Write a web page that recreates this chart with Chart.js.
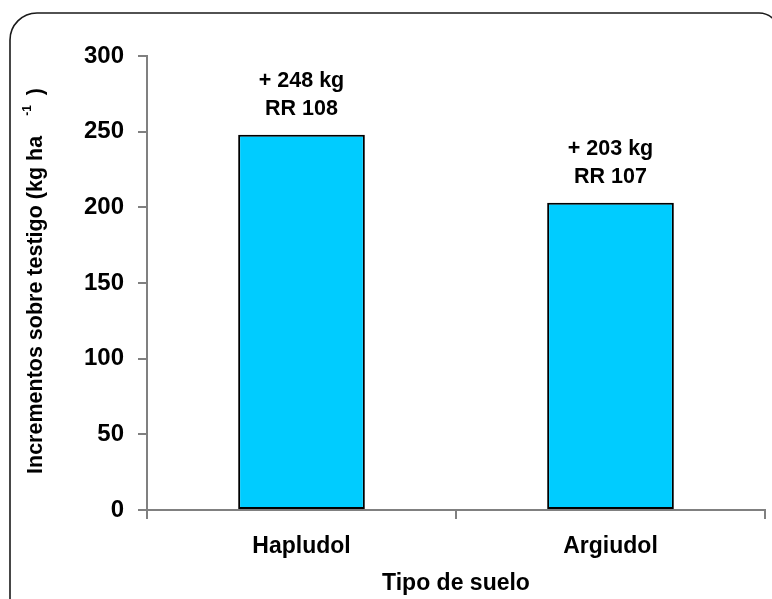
<!DOCTYPE html>
<html><head><meta charset="utf-8">
<script src="https://cdn.jsdelivr.net/npm/chart.js@4"></script>
<style>html,body{margin:0;padding:0;background:#fff}#wrap{width:772px;height:599px;position:relative}</style>
</head><body><div id="wrap"><canvas id="c" width="772" height="599"></canvas></div>
<script>
const categories = ['Hapludol', 'Argiudol'];
const increments = [248, 203];
const labelLine1 = ['+ 248 kg', '+ 203 kg'];
const labelLine2 = ['RR 108', 'RR 107'];
const yMin = 0, yMax = 300, yStep = 50;
const yTitleMain = 'Incrementos sobre testigo (kg ha';
const yTitleSup = '-1';
const yTitleEnd = ')';
const xTitle = 'Tipo de suelo';

const FONT = '"Liberation Sans", Arial, sans-serif';
const AXIS_GRAY = '#808080';

const framePlugin = {
  id: 'frame',
  beforeDraw(chart) {
    const ctx = chart.ctx;
    ctx.save();
    ctx.fillStyle = '#fff';
    ctx.fillRect(0, 0, chart.width, chart.height);
    const left = 10, top = 13, right = 779, bottom = 660, rL = 27, rR = 20;
    ctx.beginPath();
    ctx.moveTo(left + rL, top);
    ctx.lineTo(right - rR, top);
    ctx.arcTo(right, top, right, top + rR, rR);
    ctx.lineTo(right, bottom);
    ctx.lineTo(left, bottom);
    ctx.lineTo(left, top + rL);
    ctx.arcTo(left, top, left + rL, top, rL);
    ctx.closePath();
    ctx.strokeStyle = '#1a1a1a';
    ctx.lineWidth = 1.6;
    ctx.stroke();
    ctx.restore();
  }
};

const barLabelPlugin = {
  id: 'barLabels',
  afterDatasetsDraw(chart) {
    const ctx = chart.ctx;
    const meta = chart.getDatasetMeta(0);
    ctx.save();
    ctx.fillStyle = '#000';
    ctx.font = 'bold 21.5px ' + FONT;
    ctx.textAlign = 'center';
    ctx.textBaseline = 'alphabetic';
    meta.data.forEach((el, i) => {
      ctx.fillText(labelLine1[i], el.x, el.y - 48);
      ctx.fillText(labelLine2[i], el.x, el.y - 20);
    });
    ctx.restore();
  }
};

const yTitlePlugin = {
  id: 'yTitle',
  afterDraw(chart) {
    const ctx = chart.ctx;
    const area = chart.chartArea;
    ctx.save();
    ctx.fillStyle = '#000';
    ctx.textAlign = 'left';
    ctx.textBaseline = 'alphabetic';
    const mainFont = 'bold 21.5px ' + FONT;
    const supFont = 'bold 12px ' + FONT;
    ctx.font = mainFont;
    const wMain = ctx.measureText(yTitleMain).width;
    const wEnd = ctx.measureText(yTitleEnd).width;
    ctx.font = supFont;
    const wSup = ctx.measureText(yTitleSup).width;
    const gap1 = 20, gap2 = 10;
    const total = wMain + gap1 + wSup + gap2 + wEnd;
    const cy = (area.top + area.bottom) / 2 - 2;
    ctx.translate(42, cy + total / 2);
    ctx.rotate(-Math.PI / 2);
    ctx.font = mainFont;
    ctx.fillText(yTitleMain, 0, 0);
    ctx.font = supFont;
    ctx.fillText(yTitleSup, wMain + gap1, -11);
    ctx.font = mainFont;
    ctx.fillText(yTitleEnd, wMain + gap1 + wSup + gap2, 0);
    ctx.restore();
  }
};

new Chart(document.getElementById('c'), {
  type: 'bar',
  data: {
    labels: categories,
    datasets: [{
      data: increments,
      backgroundColor: '#00CCFF',
      borderColor: '#000',
      borderWidth: 2,
      borderSkipped: false,
      barPercentage: 0.41,
      categoryPercentage: 1
    }]
  },
  options: {
    responsive: false,
    animation: false,
    devicePixelRatio: 1,
    layout: { padding: { left: 0, right: 7, top: 56, bottom: 1 } },
    plugins: { legend: { display: false }, tooltip: { enabled: false } },
    scales: {
      x: {
        grid: { offset: true, drawOnChartArea: false, drawTicks: true, tickLength: 9, color: AXIS_GRAY, lineWidth: 2 },
        border: { display: true, color: AXIS_GRAY, width: 2 },
        ticks: { color: '#000', font: { family: FONT, size: 23, weight: 'bold' }, padding: 14 },
        title: { display: true, text: xTitle, color: '#000', font: { family: FONT, size: 23, weight: 'bold' }, padding: { top: 4, bottom: 1 } },
        afterFit(s) { s.height = 88; }
      },
      y: {
        min: yMin, max: yMax,
        grid: { drawOnChartArea: false, drawTicks: true, tickLength: 9, color: AXIS_GRAY, lineWidth: 2 },
        border: { display: true, color: AXIS_GRAY, width: 2 },
        ticks: { stepSize: yStep, color: '#000', font: { family: FONT, size: 24, weight: 'bold' }, padding: 14 },
        afterFit(s) { s.width = 147; }
      }
    }
  },
  plugins: [framePlugin, barLabelPlugin, yTitlePlugin]
});
</script>
</body></html>
